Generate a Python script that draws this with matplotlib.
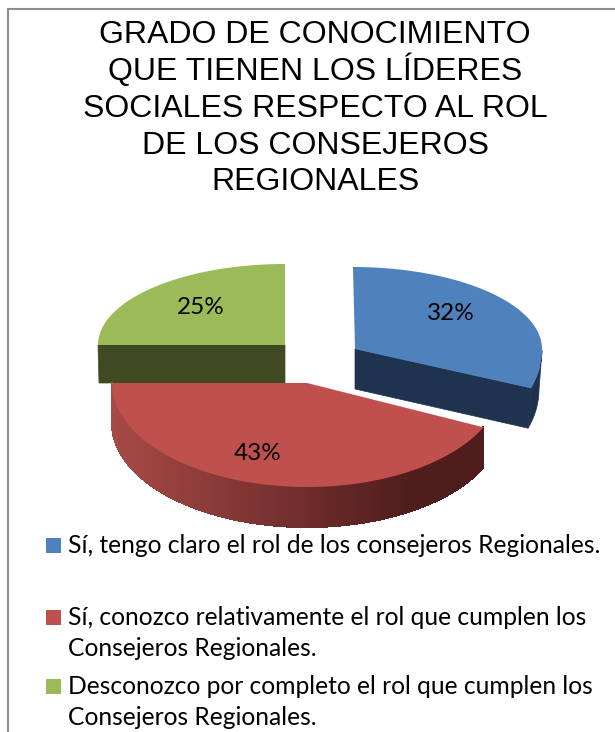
import numpy as np
import matplotlib
matplotlib.use('Agg')
import matplotlib.pyplot as plt
from matplotlib.patches import Polygon, Rectangle
from matplotlib.colors import to_rgb

# data
labels = ['Sí, tengo claro el rol de los consejeros Regionales.',
          'Sí, conozco relativamente el rol que cumplen los\nConsejeros Regionales.',
          'Desconozco por completo el rol que cumplen los\nConsejeros Regionales.']
values = [32, 43, 25]
title_lines = ['GRADO DE CONOCIMIENTO', 'QUE TIENEN LOS LÍDERES', 'SOCIALES RESPECTO AL ROL',
               'DE LOS CONSEJEROS', 'REGIONALES']

# colours
top_colors = ['#4f81bd', '#c0504d', '#9bbb59']
side_colors = ['#1f3350', '#a84a47', '#404a22']
red_side_right = '#4f1d1c'

# geometry in pixels: rim centre x, y, rx, back ry, front ry, apex x, power of the front rim
shape = [(353, 349, 189, 82, 92, 355, 0.6),
         (307, 383, 195, 104, 104, 307, 1.0),
         (285, 345, 187, 81, 104, 285, 1.0)]
depth = 40
depth_green = 38

fig = plt.figure(figsize=(6.15, 7.32), dpi=100)
ax = fig.add_axes([0, 0, 1, 1])
ax.set_xlim(0, 615)
ax.set_ylim(732, 0)
ax.axis('off')


def rim(s, t):
    # t in degrees, 0 = right, 90 = up
    cx, cy, rx, ry_back, ry_front, _, power = s
    t = np.radians(t)
    ry = np.where(np.sin(t) > 0, ry_back, ry_front)
    c = np.cos(t)
    # blue slice bulges a little more in front
    c = np.where((np.sin(t) < 0) & (c > 0), c ** power, c)
    return np.column_stack([cx + rx * c, cy - ry * np.sin(t)])


# slice angles from the values, clockwise from 12 o'clock
total = sum(values)
angles = [90.0]
for v in values:
    angles.append(angles[-1] - v * 360.0 / total)

# green slice (back)
t = np.linspace(angles[2], angles[3], 80)
s = shape[2]
pts = rim(s, t)
apex = (s[5], s[1])
ax.add_patch(Polygon([apex, pts[0], pts[0] + [1, depth_green], (apex[0], apex[1] + depth_green)], fc=side_colors[2], ec=side_colors[2], lw=0.5, zorder=2))
ax.add_patch(Polygon(np.vstack([[apex], pts]), fc=top_colors[2], ec='none', zorder=3))

# blue slice (exploded)
t = np.linspace(angles[0], angles[1], 100)
s = shape[0]
pts = rim(s, t)
apex = np.array([s[5], s[1]])
low = pts[t <= 0]
ax.add_patch(Polygon(np.vstack([low, low[::-1] + [-3, depth]]), fc=side_colors[0], ec=side_colors[0], lw=0.5, zorder=2))
ax.add_patch(Polygon([apex, pts[-1], pts[-1] + [-3, depth], apex + [0, depth]], fc=side_colors[0], ec=side_colors[0], lw=0.5, zorder=2))
ax.add_patch(Polygon(np.vstack([[apex], pts]), fc=top_colors[0], ec='none', zorder=3))

# red slice with gradient on the side wall
t = np.linspace(angles[1], angles[2], 260)
s = shape[1]
pts = rim(s, t)
apex = np.array([s[5], s[1]])
c_left = np.array(to_rgb(side_colors[1]))
c_right = np.array(to_rgb(red_side_right))
for i in range(len(t) - 1):
    a, b = pts[i], pts[i + 1]
    f = np.clip((a[0] - 112) / (484 - 112) * 1.25, 0, 1)
    col = c_left * (1 - f) + c_right * f
    ax.add_patch(Polygon([a, b, b + [0, depth], a + [0, depth]], fc=col, ec=col, lw=0.8, antialiased=False, zorder=4))
ax.add_patch(Polygon(np.vstack([[apex], pts]), fc=top_colors[1], ec='none', zorder=5))

# percent labels
label_pos = [(451, 313), (258, 453), (201, 307)]
for v, (x, y) in zip(values, label_pos):
    ax.text(x, y, '{}%'.format(v), ha='center', va='center', fontsize=17.5, family='Lato', color='black', zorder=6)

# title
title_y = [43, 80, 117, 154, 190]
for line, y in zip(title_lines, title_y):
    ax.text(315, y, line, ha='center', va='baseline', fontsize=23, family='Liberation Sans', color='black')

# legend
legend_y = [553, 625, 694]
line_gap = 31
for lab, col, y in zip(labels, top_colors, legend_y):
    ax.add_patch(Rectangle((46, y - 15), 15, 15, fc=col, ec='none'))
    for i, part in enumerate(lab.split('\n')):
        ax.text(68, y + i * line_gap, part, ha='left', va='baseline', fontsize=17.7, family='Lato', color='black')

# frame of the picture
ax.plot([8, 8, 615], [732, 9, 9], color='#8c8c8c', lw=1.5, solid_joinstyle='miter')

plt.savefig('out.png', dpi=100)
